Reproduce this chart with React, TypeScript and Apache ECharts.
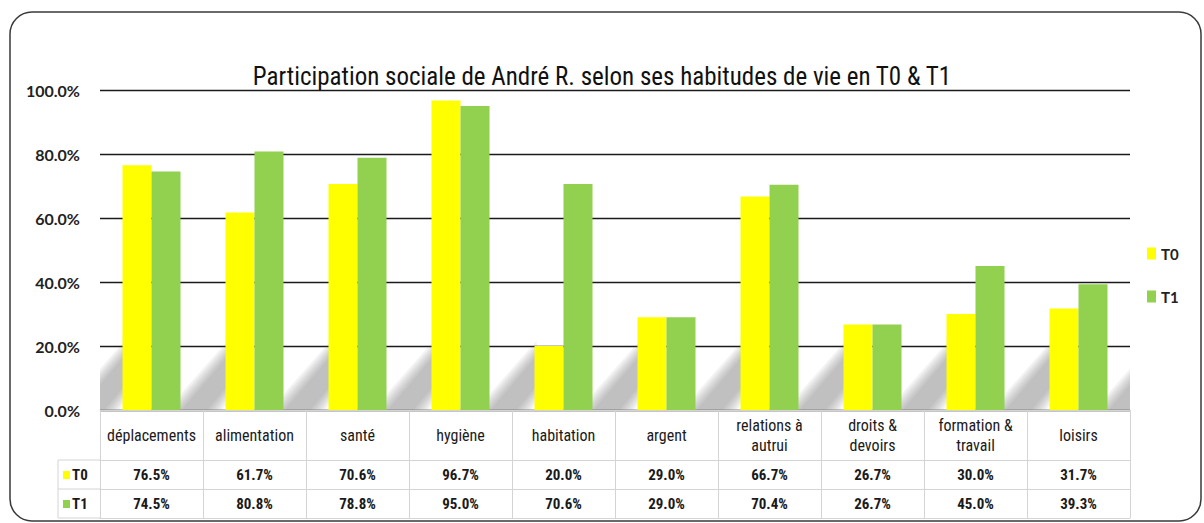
import React, { useEffect, useRef } from "react";
import * as echarts from "echarts";

const titleText = "Participation sociale de André R. selon ses habitudes de vie en T0 & T1";
const categories = [
  "déplacements",
  "alimentation",
  "santé",
  "hygiène",
  "habitation",
  "argent",
  "relations à\nautrui",
  "droits &\ndevoirs",
  "formation &\ntravail",
  "loisirs",
];
const seriesNames = ["T0", "T1"];
const t0Values = [76.5, 61.7, 70.6, 96.7, 20.0, 29.0, 66.7, 26.7, 30.0, 31.7];
const t1Values = [74.5, 80.8, 78.8, 95.0, 70.6, 29.0, 70.4, 26.7, 45.0, 39.3];
const yTicks = [0, 20, 40, 60, 80, 100];

const YELLOW = "#FFFF00";
const GREEN = "#92D050";
const NARROW = "'Liberation Sans Narrow', 'Arial Narrow', 'Roboto Condensed', 'Liberation Sans', sans-serif";
const ROUND = "Lato, 'Open Sans', sans-serif";
const GRID_LEFT = 100;
const GRID_RIGHT_PX = 1130;
const GRID_TOP = 90;
const GRID_BOTTOM_PX = 410;
const ROW_H = 29;
const HEAD_H = 50;
const TABLE_LINE = "#d4d4d4";

const fmt = (v: number) => v.toFixed(1) + "%";

export default function App() {
  const ref = useRef<HTMLDivElement>(null);
  useEffect(() => {
    if (!ref.current) return;
    const chart = echarts.init(ref.current, null, { renderer: "svg" });
    const W = 1204;
    const H = 523;
    const shadowData = categories.map((_, i) => [i, 0]).concat([[categories.length, 0]]);

    const tableAxis = (labels: string[], offset: number, bold: boolean, tickLen: number, showLabel: boolean, fontSize: number, margin: number) => ({
      type: "category",
      data: labels,
      position: "bottom",
      offset,
      z: 5,
      axisLine: { show: true, lineStyle: { color: TABLE_LINE, width: 1 } },
      axisTick: { show: tickLen > 0, length: tickLen, interval: 0, lineStyle: { color: TABLE_LINE, width: 1 } },
      axisLabel: {
        show: showLabel,
        interval: 0,
        margin,
        verticalAlign: "middle",
        color: "#1a1a1a",
        fontFamily: NARROW,
        fontSize,
        fontWeight: bold ? "bold" : "normal",
        lineHeight: 20,
      },
      splitLine: { show: false },
    });

    chart.setOption({
      animation: false,
      backgroundColor: "#fff",
      title: {
        text: titleText,
        left: "center",
        top: 59,
        textStyle: { fontFamily: NARROW, fontSize: 25, fontWeight: "normal", color: "#111" },
      },
      legend: {
        data: seriesNames,
        orient: "vertical",
        left: 1142,
        top: 241,
        itemWidth: 9,
        itemHeight: 12,
        itemGap: 28,
        icon: "rect",
        textStyle: { fontFamily: ROUND, fontSize: 15, fontWeight: "bold", color: "#222" },
      },
      grid: {
        left: GRID_LEFT,
        right: W - GRID_RIGHT_PX,
        top: GRID_TOP,
        bottom: H - GRID_BOTTOM_PX,
        containLabel: false,
      },
      xAxis: [
        tableAxis(categories, 0, false, HEAD_H, true, 16, HEAD_H / 2),
        tableAxis(t0Values.map(fmt), HEAD_H, true, ROW_H, true, 15, ROW_H / 2),
        tableAxis(t1Values.map(fmt), HEAD_H + ROW_H, true, ROW_H, true, 15, ROW_H / 2),
        tableAxis(categories.map(() => ""), HEAD_H + 2 * ROW_H, false, 0, false, 13, 0),
      ],
      yAxis: {
        type: "value",
        min: yTicks[0],
        max: yTicks[yTicks.length - 1],
        interval: 20,
        axisLine: { show: false },
        axisTick: { show: false },
        axisLabel: {
          formatter: (v: number) => fmt(v),
          margin: 20,
          fontFamily: ROUND,
          fontSize: 16,
          fontWeight: "bold",
          color: "#222",
        },
        splitLine: { show: true, lineStyle: { color: "#1a1a1a", width: 1.3 } },
      },
      series: [
        {
          type: "custom",
          name: "shadow",
          silent: true,
          z: 1,
          clip: true,
          data: shadowData,
          encode: { x: 0, y: 1 },
          renderItem: (params: any, api: any) => {
            const i = api.value(0);
            const bw = api.size([1, 0])[0];
            const base = api.coord([0, 0]);
            const cx = base[0] + i * bw;
            const x0 = cx - 29;
            const y0 = base[1];
            const layers = [15, 12, 9, 6, 3, 0].map((e) => ({
              type: "polygon",
              shape: {
                points: [
                  [x0 - 44 - e, y0],
                  [x0 - 18 + e, y0],
                  [x0 + 2, y0 - 24 + e],
                  [x0 + 2, y0 - 54 - e],
                ],
              },
              style: { fill: "rgba(130,130,130,0.1)" },
            }));
            return { type: "group", children: layers };
          },
        },
        {
          name: seriesNames[0],
          type: "bar",
          z: 2,
          data: t0Values,
          barWidth: 29,
          barGap: "0%",
          itemStyle: { color: YELLOW },
        },
        {
          name: seriesNames[1],
          type: "bar",
          z: 2,
          data: t1Values,
          barWidth: 29,
          barGap: "0%",
          itemStyle: { color: GREEN },
        },
      ],
      graphic: [
        {
          type: "rect",
          shape: { x: 10, y: 12, width: 1191, height: 509, r: 22 },
          style: { fill: "none", stroke: "#3a3a3a", lineWidth: 1.5 },
          z: 0,
          silent: true,
        },
        { type: "line", shape: { x1: 58, y1: 460, x2: 100, y2: 460 }, style: { stroke: TABLE_LINE, lineWidth: 1 } },
        { type: "line", shape: { x1: 58, y1: 489, x2: 100, y2: 489 }, style: { stroke: TABLE_LINE, lineWidth: 1 } },
        { type: "line", shape: { x1: 58, y1: 518, x2: 100, y2: 518 }, style: { stroke: TABLE_LINE, lineWidth: 1 } },
        { type: "line", shape: { x1: 58, y1: 460, x2: 58, y2: 518 }, style: { stroke: TABLE_LINE, lineWidth: 1 } },
        { type: "rect", shape: { x: 63, y: 471, width: 7, height: 8 }, style: { fill: YELLOW } },
        { type: "rect", shape: { x: 63, y: 500, width: 7, height: 8 }, style: { fill: GREEN } },
        {
          type: "text",
          x: 72,
          y: 475,
          style: { text: seriesNames[0], fontFamily: NARROW, fontSize: 15, fontWeight: "bold", fill: "#1a1a1a", verticalAlign: "middle" },
        },
        {
          type: "text",
          x: 72,
          y: 504,
          style: { text: seriesNames[1], fontFamily: NARROW, fontSize: 15, fontWeight: "bold", fill: "#1a1a1a", verticalAlign: "middle" },
        },
      ],
    });
    return () => chart.dispose();
  }, []);
  return <div ref={ref} style={{ position: "fixed", left: 0, top: 0, width: 1204, height: 523 }} />;
}
